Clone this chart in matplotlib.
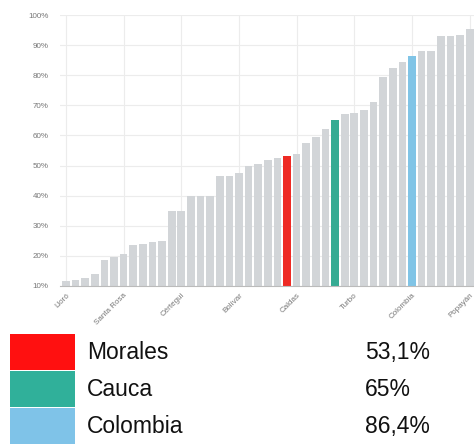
#!/usr/bin/env python3

from matplotlib import pyplot as plt
from matplotlib.patches import Rectangle

# Output file
out_file = 'out.png'

# Bar values (percent), sorted ascending
values = [11.5, 12, 12.5, 14, 18.5, 19.5, 20.5, 23.5, 24, 24.5,
          25, 35, 35, 40, 40, 40, 46.5, 46.5, 47.5, 50,
          50.5, 52, 52.5, 53.1, 54, 57.5, 59.5, 62, 65, 67,
          67.5, 68.5, 71, 79.5, 82.5, 84.5, 86.4, 88, 88, 93,
          93, 93.5, 95.5]

# Tick labels, one every sixth bar
tick_idx = [0, 6, 12, 18, 24, 30, 36, 42]
tick_names = ['Lloró', 'Santa Rosa', 'Cértegui', 'Bolívar', 'Caldas',
              'Turbo', 'Colombia', 'Popayán']
y_ticks = [10, 20, 30, 40, 50, 60, 70, 80, 90, 100]

# Highlighted bars
hl_idx = [23, 28, 36]
hl_names = ['Morales', 'Cauca', 'Colombia']
hl_values = ['53,1%', '65%', '86,4%']
hl_colors = ['#ee2a24', '#35ab93', '#80c4e6']
legend_colors = ['#ff1010', '#30b09a', '#7fc3e8']

bar_grey = '#d2d5d8'


def plot():
    plt.rcParams['font.family'] = ['Liberation Sans', 'DejaVu Sans']
    fig = plt.figure(figsize=(4.74, 4.45), dpi=100)

    # Chart area
    ax = fig.add_axes([60 / 474, 1 - 286 / 445, 414 / 474, 271 / 445])
    colors = [bar_grey] * len(values)
    for i, c in zip(hl_idx, hl_colors):
        colors[i] = c
    ax.bar(range(len(values)), values, width=0.8, color=colors, zorder=2)

    ax.set_ylim(10, 100)
    ax.set_xlim(-0.62, 42.45)
    ax.set_yticks(y_ticks)
    ax.set_yticklabels(['{}%'.format(v) for v in y_ticks])
    ax.set_xticks(tick_idx)
    ax.set_xticklabels(tick_names, rotation=45, ha='right',
                       rotation_mode='anchor')
    ax.tick_params(length=0, labelsize=5.8, labelcolor='#777777')
    ax.tick_params(axis='y', pad=8)
    ax.tick_params(axis='x', pad=4)

    # Light grid behind bars
    ax.grid(True, color='#ececec', linewidth=0.8, zorder=0)
    for side in ['top', 'right', 'left']:
        ax.spines[side].set_visible(False)
    ax.spines['bottom'].set_color('#bbbbbb')
    ax.spines['bottom'].set_linewidth(0.8)

    # Legend rows below chart
    lg = fig.add_axes([0, 0, 1, 111 / 445])
    lg.set_xlim(0, 474)
    lg.set_ylim(111, 0)
    lg.axis('off')
    row_h = 37
    for k, (name, val, col) in enumerate(zip(hl_names, hl_values, legend_colors)):
        top = k * row_h
        lg.add_patch(Rectangle((10, top), 65, row_h - 1, color=col, lw=0))
        lg.text(87, top + row_h / 2, name, fontsize=16.5, va='center', color='#111111')
        lg.text(365, top + row_h / 2, val, fontsize=16.5, va='center', color='#111111')

    plt.savefig(out_file, dpi=100)


if __name__ == '__main__':
    plot()
